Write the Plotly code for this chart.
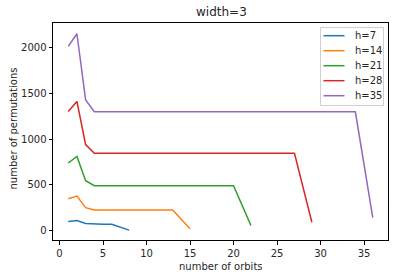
import plotly.graph_objects as go

labels = ["h=7", "h=14", "h=21", "h=28", "h=35"]
colors = ["#1f77b4", "#ff7f0e", "#2ca02c", "#d62728", "#9467bd"]

x_h7 = [1, 2, 3, 4, 5, 6, 8]
y_h7 = [98, 108, 76, 68, 68, 68, 3]

x_h14 = [1, 2, 3, 4, 5, 6, 7, 8, 9, 10, 11, 12, 13, 15]
y_h14 = [348, 376, 250, 224, 224, 224, 224, 224, 224, 224, 224, 224, 224, 18]

x_h21 = [1, 2, 3] + list(range(4, 21)) + [22]
y_h21 = [739, 810, 545] + [490] * 17 + [54]

x_h28 = [1, 2, 3] + list(range(4, 28)) + [29]
y_h28 = [1304, 1413, 940] + [845] * 24 + [90]

x_h35 = [1, 2, 3] + list(range(4, 35)) + [36]
y_h35 = [2016, 2155, 1430] + [1300] * 31 + [140]

xs = [x_h7, x_h14, x_h21, x_h28, x_h35]
ys = [y_h7, y_h14, y_h21, y_h28, y_h35]

W, H = 395, 278
L, R, T, B = 53, 7, 23, 38
PW, PH = W - L - R, H - T - B


def px(xp):
    return (xp - L) / PW


def py(yp):
    return (H - B - yp) / PH


fig = go.Figure()
for lab, c, x, y in zip(labels, colors, xs, ys):
    fig.add_trace(go.Scatter(x=x, y=y, mode="lines", name=lab,
                             line=dict(color=c, width=1.5), hoverinfo="skip"))

axis_common = dict(showline=True, linecolor="black", linewidth=1, mirror=True,
                   ticks="outside", ticklen=3.5, tickcolor="black", tickwidth=1,
                   showgrid=False, zeroline=False, automargin=False,
                   tickfont=dict(size=10, color="#262626"))

shapes = [dict(type="rect", xref="paper", yref="paper",
               x0=px(320.5), x1=px(383.5), y0=py(105.5), y1=py(27.5),
               line=dict(color="#d0d0d0", width=1), fillcolor="rgba(255,255,255,0.8)",
               layer="above")]
annotations = []
row_y = [35.7, 50.7, 65.7, 80.7, 95.7]
for lab, c, ry in zip(labels, colors, row_y):
    shapes.append(dict(type="line", xref="paper", yref="paper",
                       x0=px(323.5), x1=px(344.5), y0=py(ry), y1=py(ry),
                       line=dict(color=c, width=1.5), layer="above"))
    annotations.append(dict(text=lab, xref="paper", yref="paper",
                            x=px(352.5), y=py(ry), xanchor="left", yanchor="middle",
                            showarrow=False, font=dict(size=10, color="#262626")))

annotations.append(dict(text="number of orbits", xref="paper", yref="paper",
                        x=px(221), y=py(266), xanchor="center", yanchor="middle",
                        showarrow=False, font=dict(size=10, color="#262626")))
annotations.append(dict(text="number of permutations", xref="paper", yref="paper",
                        x=px(12.5), y=py(129), xanchor="center", yanchor="middle",
                        textangle=-90, showarrow=False,
                        font=dict(size=10, color="#262626")))
annotations.append(dict(text="width=3", xref="paper", yref="paper",
                        x=px(221), y=py(12), xanchor="center", yanchor="middle",
                        showarrow=False, font=dict(size=12, color="#262626")))

fig.update_layout(
    width=W, height=H,
    margin=dict(l=L, r=R, t=T, b=B),
    paper_bgcolor="white", plot_bgcolor="white",
    font=dict(family="DejaVu Sans", size=10, color="#262626"),
    xaxis=dict(range=[-0.75, 37.75], tickvals=[0, 5, 10, 15, 20, 25, 30, 35],
               **axis_common),
    yaxis=dict(range=[-105, 2273], tickvals=[0, 500, 1000, 1500, 2000],
               **axis_common),
    shapes=shapes,
    annotations=annotations,
    showlegend=False,
    hovermode=False,
)

fig.write_html("out.html",
               config={"displayModeBar": False, "staticPlot": True},
               post_script="document.body.style.margin='0';document.body.style.overflow='hidden';")
